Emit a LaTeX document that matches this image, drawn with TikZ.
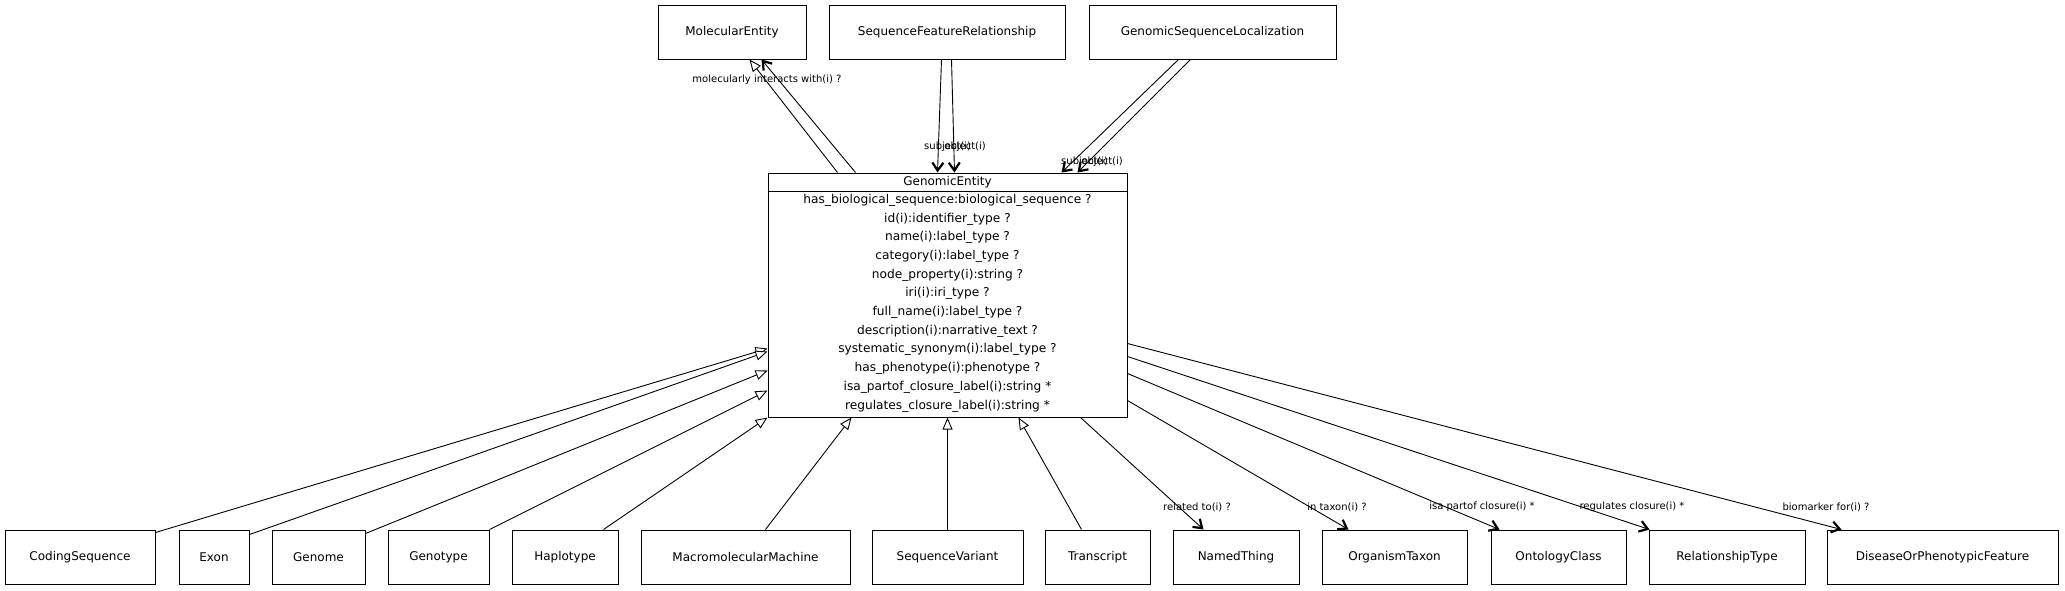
\documentclass[tikz,border=0pt]{standalone}
\usepackage{fontspec}
\setmainfont{DejaVu Sans}
\usetikzlibrary{arrows.meta,calc}
\begin{document}
\begin{tikzpicture}[x=1pt,y=-1pt,
 box/.style={draw, line width=1pt, minimum height=54pt, inner sep=0pt, font=\fontsize{12}{14}\selectfont},
 elabel/.style={font=\fontsize{10}{12}\selectfont, inner sep=0pt},
 inh/.style={line width=0.9pt, -{Triangle[open,length=12pt,width=10pt,fill=white]}},
 assoc/.style={line width=0.9pt, -{Straight Barb[length=8pt,width=11pt,line width=2.2pt]}},
]
\useasboundingbox[fill=white] (0,0) rectangle (2065,590);
% top row
\node[box, minimum width=148pt] (me) at (732,32) {MolecularEntity};
\node[box, minimum width=236pt] (sfr) at (947,32) {SequenceFeatureRelationship};
\node[box, minimum width=247pt] (gsl) at (1212.5,32) {GenomicSequenceLocalization};
% central class
\node[draw, line width=1pt, minimum width=359pt, minimum height=244pt, inner sep=0pt] (ge) at (947.5,295) {};
\node[font=\fontsize{12}{14}\selectfont, inner sep=0pt] (getitle) at (947.5,182) {GenomicEntity};
\draw[line width=1pt] ($(ge.north west)+(0,19)$) -- ($(ge.north east)+(0,19)$);
\node[align=center, inner sep=0pt, font=\fontsize{12.2}{18.7}\selectfont] (geattr) at (947.5,303) {%
has\_biological\_sequence:biological\_sequence ?\\
id(i):identifier\_type ?\\
name(i):label\_type ?\\
category(i):label\_type ?\\
node\_property(i):string ?\\
iri(i):iri\_type ?\\
full\_name(i):label\_type ?\\
description(i):narrative\_text ?\\
systematic\_synonym(i):label\_type ?\\
has\_phenotype(i):phenotype ?\\
isa\_partof\_closure\_label(i):string *\\
regulates\_closure\_label(i):string *};
% bottom row
\node[box, minimum width=150pt] (cs) at (80,557) {CodingSequence};
\node[box, minimum width=70pt] (ex) at (214,557) {Exon};
\node[box, minimum width=93pt] (gn) at (318.5,557) {Genome};
\node[box, minimum width=101pt] (gt) at (438.5,557) {Genotype};
\node[box, minimum width=106pt] (hp) at (565,557) {Haplotype};
\node[box, minimum width=209pt] (mm) at (745.5,557) {MacromolecularMachine};
\node[box, minimum width=151pt] (sv) at (947.5,557) {SequenceVariant};
\node[box, minimum width=105pt] (tr) at (1097.5,557) {Transcript};
\node[box, minimum width=126pt] (nt) at (1236,557) {NamedThing};
\node[box, minimum width=145pt] (ot) at (1394.5,557) {OrganismTaxon};
\node[box, minimum width=135pt] (oc) at (1558.5,557) {OntologyClass};
\node[box, minimum width=156pt] (rt) at (1727,557) {RelationshipType};
\node[box, minimum width=231pt] (dp) at (1942.5,557) {DiseaseOrPhenotypicFeature};
% top connectors
\draw[inh] ($(ge.north west)+(70,0)$) -- ($(me.south west)+(92,0)$);
\draw[assoc] ($(ge.north west)+(88,0)$) -- ($(me.south west)+(104,0)$);
\node[elabel] (lmi) at (767,80) {molecularly interacts with(i) ?};
\draw[assoc] ($(sfr.south west)+(113,0)$) -- ($(ge.north west)+(170,0)$);
\draw[assoc] ($(sfr.south west)+(123,0)$) -- ($(ge.north west)+(187,0)$);
\node[elabel, anchor=west] (lsfrs) at (924,147) {subject(i)};
\node[elabel, anchor=east] (lsfro) at (986,147) {object(i)};
\draw[assoc] ($(gsl.south west)+(90,0)$) -- ($(ge.north west)+(294,0)$);
\draw[assoc] ($(gsl.south west)+(102,0)$) -- ($(ge.north west)+(310,0)$);
\node[elabel, anchor=west] (lgsls) at (1061,162) {subject(i)};
\node[elabel, anchor=east] (lgslo) at (1123,162) {object(i)};
% inheritance from bottom
\draw[inh] ($(cs.north east)+(0,3)$) -- ($(ge.north west)+(0,176)$);
\draw[inh] ($(ex.north east)+(0,5)$) -- ($(ge.north west)+(0,179)$);
\draw[inh] ($(gn.north east)+(0,4)$) -- ($(ge.north west)+(0,198)$);
\draw[inh] (gt.north east) -- ($(ge.north west)+(0,218)$);
\draw[inh] ($(hp.north west)+(92,0)$) -- (ge.south west);
\draw[inh] ($(mm.north west)+(125,0)$) -- ($(ge.south west)+(84,0)$);
\draw[inh] (sv.north) -- (ge.south);
\draw[inh] ($(tr.north west)+(37,0)$) -- ($(ge.south west)+(251,0)$);
% associations to the right
\draw[assoc] ($(ge.south west)+(313,0)$) -- ($(nt.north west)+(31,0)$);
\draw[assoc] ($(ge.south east)+(0,-17)$) -- ($(ot.north west)+(27,0)$);
\draw[assoc] ($(ge.south east)+(0,-44)$) -- ($(oc.north west)+(9,0)$);
\draw[assoc] ($(ge.south east)+(0,-61)$) -- ($(rt.north west)+(1,0)$);
\draw[assoc] ($(ge.south east)+(0,-74)$) -- ($(dp.north west)+(15,0)$);
\node[elabel] (lnt) at (1197,507) {related to(i) ?};
\node[elabel] (lot) at (1337,507) {in taxon(i) ?};
\node[elabel] (loc) at (1482,507) {isa partof closure(i) *};
\node[elabel] (lrt) at (1632,507) {regulates closure(i) *};
\node[elabel] (ldp) at (1826,507) {biomarker for(i) ?};
\end{tikzpicture}
\end{document}
